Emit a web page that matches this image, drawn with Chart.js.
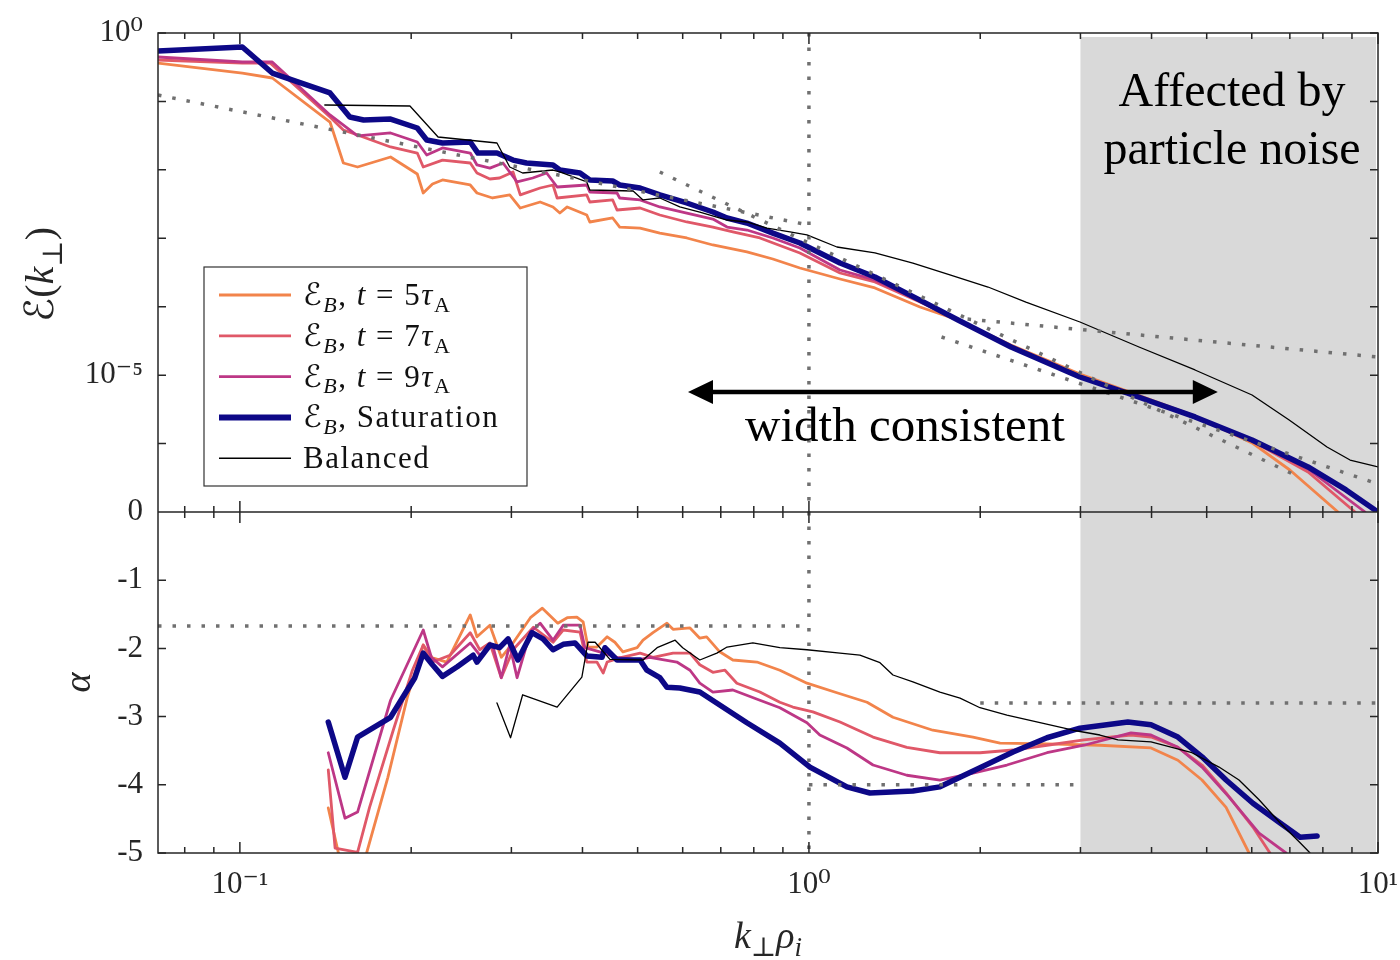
<!DOCTYPE html>
<html lang="en">
<head>
<meta charset="utf-8">
<title>Magnetic spectra and spectral index</title>
<script src="https://cdn.jsdelivr.net/npm/chart.js@4.4.1/dist/chart.umd.min.js"></script>
<style>
  html, body { margin: 0; padding: 0; background: #fff; }
  canvas { display: block; }
</style>
</head>
<body>
<canvas id="spectra" width="1400" height="960"></canvas>
<script>
/*
 * Two stacked panels on one log k⊥ρi axis:
 *   top    - magnetic spectra ℰ_B(k⊥) at t = 5, 7, 9 τA, at saturation, and the balanced run
 *   bottom - local spectral index α of the same curves
 * Dotted lines are reference slopes, the grey band is the noise-dominated range.
 */

const SERIF = "'Liberation Serif', 'DejaVu Serif', 'DejaVu Sans', serif";
const INK = '#262626';
const GUIDE = '#707070';
const C_T5 = '#f2844b', C_T7 = '#e05868', C_T9 = '#bd3786', C_SAT = '#0d0887', C_BAL = '#000000';

// ---- axis ticks ----
const X_TICKS = [0.08, 0.09, 0.1, 0.2, 0.3, 0.4, 0.5, 0.6, 0.7, 0.8, 0.9, 1, 2, 3, 4, 5, 6, 7, 8, 9, 10];
const X_LABELS = { 0.1: '10⁻¹', 1: '10⁰', 10: '10¹' };
const E_TICKS = [1e-7, 1e-6, 1e-5, 1e-4, 1e-3, 1e-2, 1e-1, 1];
const E_LABELS = { 1: '10⁰', 0.00001: '10⁻⁵' };
const A_TICKS = [-5, -4, -3, -2, -1, 0];

// ---- top panel: spectra ----
const kSatTop = [0.0718, 0.101, 0.114, 0.144, 0.156, 0.165, 0.184, 0.205, 0.213, 0.227, 0.254, 0.262, 0.283, 0.302, 0.319, 0.355, 0.365, 0.396, 0.412, 0.452, 0.465, 0.505, 0.547, 0.610, 0.678, 0.718, 0.778, 0.864, 0.964, 1.134, 1.306, 1.567, 1.828, 2.265, 2.994, 3.623, 4.769, 6.007, 7.534, 8.788, 10];
const eSatTop = [0.546, 0.624, 0.260, 0.133, 0.0592, 0.0535, 0.0553, 0.0409, 0.0273, 0.0247, 0.0255, 0.0176, 0.0176, 0.0139, 0.0126, 0.0118, 0.00995, 0.00900, 0.00711, 0.00687, 0.00601, 0.00543, 0.00430, 0.00328, 0.00242, 0.00198, 0.00167, 0.00119, 8.53e-4, 4.35e-4, 2.72e-4, 1.25e-4, 6.40e-5, 2.58e-5, 9.40e-6, 5.48e-6, 2.45e-6, 1.13e-6, 4.55e-7, 2.10e-7, 1.0e-7];

const kT5Top = [0.0718, 0.101, 0.114, 0.144, 0.152, 0.161, 0.184, 0.205, 0.210, 0.218, 0.227, 0.254, 0.261, 0.278, 0.298, 0.311, 0.337, 0.355, 0.365, 0.376, 0.407, 0.412, 0.452, 0.465, 0.505, 0.547, 0.610, 0.678, 0.778, 0.864, 0.964, 1.134, 1.306, 1.567, 1.828, 2.265, 2.994, 3.623, 4.769, 6.007, 7.00, 8.506];
const eT5Top = [0.364, 0.260, 0.220, 0.0500, 0.0126, 0.0110, 0.0154, 0.00870, 0.00459, 0.00621, 0.00711, 0.00601, 0.00459, 0.00388, 0.00430, 0.00277, 0.00339, 0.00287, 0.00234, 0.00287, 0.00219, 0.00173, 0.00198, 0.00146, 0.00141, 0.00119, 0.00101, 7.98e-4, 6.31e-4, 4.98e-4, 3.68e-4, 2.54e-4, 1.88e-4, 9.91e-5, 6.40e-5, 2.76e-5, 1.04e-5, 5.86e-6, 2.53e-6, 1.02e-6, 4.11e-7, 1.0e-7];

const kT7Top = [0.0718, 0.101, 0.113, 0.144, 0.152, 0.161, 0.184, 0.205, 0.210, 0.227, 0.254, 0.261, 0.275, 0.286, 0.302, 0.311, 0.337, 0.355, 0.361, 0.407, 0.412, 0.452, 0.460, 0.505, 0.547, 0.610, 0.678, 0.735, 0.820, 0.964, 1.134, 1.306, 1.567, 1.828, 2.265, 2.994, 3.623, 4.769, 6.007, 7.534, 9.113];
const eT7Top = [0.403, 0.364, 0.364, 0.0592, 0.0383, 0.0323, 0.0216, 0.0176, 0.0110, 0.0139, 0.0126, 0.00900, 0.00735, 0.00760, 0.00931, 0.00430, 0.00543, 0.00601, 0.00388, 0.00430, 0.00339, 0.00363, 0.00259, 0.00277, 0.00219, 0.00173, 0.00146, 0.00124, 0.00101, 6.10e-4, 3.11e-4, 2.30e-4, 1.17e-4, 6.40e-5, 2.58e-5, 9.40e-6, 5.48e-6, 2.45e-6, 1.09e-6, 3.84e-7, 1.0e-7];

const kT9Top = [0.0718, 0.101, 0.114, 0.144, 0.161, 0.184, 0.205, 0.213, 0.227, 0.254, 0.261, 0.275, 0.290, 0.307, 0.327, 0.346, 0.361, 0.407, 0.412, 0.460, 0.465, 0.505, 0.547, 0.610, 0.678, 0.718, 0.778, 0.864, 0.964, 1.134, 1.306, 1.567, 1.828, 2.265, 2.994, 3.623, 4.769, 6.007, 7.534, 9.490];
const eT9Top = [0.446, 0.377, 0.377, 0.0634, 0.0313, 0.0346, 0.0255, 0.0165, 0.0209, 0.0176, 0.0118, 0.0106, 0.0126, 0.00665, 0.00760, 0.00900, 0.00562, 0.00601, 0.00475, 0.00459, 0.00388, 0.00363, 0.00287, 0.00234, 0.00191, 0.00146, 0.00132, 0.00101, 7.22e-4, 3.44e-4, 2.46e-4, 1.21e-4, 6.40e-5, 2.58e-5, 9.40e-6, 5.48e-6, 2.45e-6, 1.11e-6, 4.25e-7, 1.0e-7];

const kBalTop = [0.141, 0.199, 0.223, 0.283, 0.298, 0.314, 0.355, 0.365, 0.407, 0.412, 0.491, 0.511, 0.547, 0.593, 0.643, 0.718, 0.778, 0.844, 0.926, 0.992, 1.120, 1.306, 1.523, 1.769, 2.064, 2.406, 2.994, 3.802, 4.769, 6.007, 6.981, 8.136, 8.932, 10];
const eBalTop = [0.0887, 0.0857, 0.0302, 0.0247, 0.0110, 0.00900, 0.00995, 0.00931, 0.00665, 0.00508, 0.00491, 0.00363, 0.00388, 0.00287, 0.00242, 0.00185, 0.00173, 0.00141, 0.00124, 0.00112, 7.46e-4, 6.10e-4, 4.35e-4, 2.91e-4, 1.94e-4, 1.17e-4, 5.98e-5, 2.58e-5, 1.19e-5, 5.13e-6, 2.21e-6, 8.91e-7, 5.75e-7, 4.55e-7];

// reference slopes in the top panel (k^-5/3, k^-4, k^-2.8 and the shallow tail)
const kRefA = [0.0718, 1.0],  eRefA = [0.124, 1.56e-3];
const kRefB = [0.547, 7.20],  eRefB = [9.31e-3, 3.36e-7];
const kRefC = [1.71, 10],     eRefC = [3.61e-5, 2.57e-7];
const kRefD = [1.9, 10],      eRefD = [6.6e-5, 1.84e-5];

// ---- bottom panel: spectral index ----
const kSatBot = [0.143, 0.153, 0.161, 0.184, 0.203, 0.210, 0.218, 0.227, 0.241, 0.257, 0.261, 0.275, 0.286, 0.296, 0.308, 0.326, 0.341, 0.355, 0.370, 0.388, 0.407, 0.433, 0.438, 0.460, 0.505, 0.519, 0.547, 0.563, 0.593, 0.643, 0.697, 0.778, 0.889, 1.004, 1.166, 1.280, 1.523, 1.699, 1.998, 2.284, 2.620, 2.994, 3.634, 3.991, 4.450, 4.906, 5.408, 6.028, 6.730, 7.296, 7.816];
const aSatBot = [-3.08, -3.89, -3.30, -3.01, -2.43, -2.07, -2.24, -2.41, -2.27, -2.10, -2.20, -1.95, -1.99, -1.86, -2.17, -1.77, -1.86, -2.02, -1.94, -1.92, -2.11, -2.13, -1.99, -2.17, -2.17, -2.32, -2.43, -2.57, -2.58, -2.64, -2.83, -3.09, -3.39, -3.74, -4.03, -4.12, -4.09, -4.03, -3.75, -3.52, -3.31, -3.17, -3.08, -3.12, -3.30, -3.59, -3.93, -4.27, -4.56, -4.77, -4.75];

const kT5Bot = [0.143, 0.149, 0.157, 0.167, 0.182, 0.197, 0.207, 0.210, 0.218, 0.231, 0.254, 0.261, 0.275, 0.288, 0.302, 0.324, 0.340, 0.362, 0.376, 0.391, 0.401, 0.409, 0.424, 0.442, 0.456, 0.471, 0.499, 0.511, 0.532, 0.563, 0.577, 0.618, 0.643, 0.661, 0.697, 0.735, 0.810, 0.889, 0.992, 1.120, 1.265, 1.405, 1.651, 1.942, 2.167, 2.620, 3.246, 3.991, 4.450, 4.906, 5.408, 5.934];
const aT5Bot = [-4.34, -5.0, -5.5, -5.0, -3.89, -2.71, -2.13, -1.95, -2.14, -2.20, -1.51, -1.83, -1.66, -2.13, -1.92, -1.55, -1.41, -1.63, -1.55, -1.54, -1.61, -1.98, -1.98, -1.83, -1.91, -2.05, -1.99, -1.88, -1.77, -1.63, -1.72, -1.70, -1.85, -1.83, -2.05, -2.17, -2.20, -2.32, -2.51, -2.65, -2.79, -3.01, -3.20, -3.30, -3.39, -3.40, -3.42, -3.46, -3.64, -3.93, -4.33, -5.0];

const kT7Bot = [0.143, 0.147, 0.161, 0.169, 0.186, 0.201, 0.210, 0.218, 0.234, 0.254, 0.264, 0.275, 0.288, 0.302, 0.328, 0.355, 0.370, 0.396, 0.407, 0.424, 0.435, 0.442, 0.465, 0.505, 0.532, 0.577, 0.618, 0.643, 0.678, 0.712, 0.747, 0.820, 0.889, 0.937, 1.016, 1.134, 1.296, 1.486, 1.699, 1.998, 2.284, 2.620, 3.043, 3.681, 3.991, 4.450, 4.906, 5.408, 6.028, 6.459];
const aT7Bot = [-3.78, -4.93, -4.99, -4.33, -3.20, -2.32, -1.95, -2.20, -2.10, -1.77, -2.02, -1.92, -2.43, -2.02, -1.69, -1.91, -1.73, -1.76, -2.20, -2.20, -2.36, -2.20, -2.14, -2.07, -2.13, -2.07, -2.07, -2.24, -2.35, -2.32, -2.51, -2.64, -2.79, -2.86, -2.93, -3.08, -3.30, -3.45, -3.53, -3.53, -3.49, -3.42, -3.34, -3.27, -3.30, -3.45, -3.71, -4.12, -4.62, -5.0];

const kT9Bot = [0.143, 0.153, 0.161, 0.184, 0.210, 0.217, 0.227, 0.254, 0.264, 0.278, 0.288, 0.298, 0.307, 0.324, 0.337, 0.355, 0.370, 0.396, 0.404, 0.429, 0.460, 0.499, 0.525, 0.586, 0.618, 0.643, 0.678, 0.735, 0.820, 0.889, 0.992, 1.045, 1.166, 1.296, 1.486, 1.699, 1.942, 2.228, 2.620, 3.043, 3.681, 3.991, 4.450, 4.906, 5.474, 6.180, 6.892];
const aT9Bot = [-3.53, -4.49, -4.40, -2.76, -1.73, -2.13, -2.27, -1.92, -2.10, -1.95, -2.43, -1.95, -2.43, -1.76, -1.63, -1.88, -1.66, -1.66, -1.99, -2.05, -2.13, -2.17, -2.13, -2.20, -2.32, -2.51, -2.64, -2.61, -2.76, -2.87, -3.09, -3.27, -3.46, -3.71, -3.86, -3.93, -3.83, -3.71, -3.53, -3.42, -3.24, -3.27, -3.45, -3.74, -4.18, -4.71, -5.0];

const kBalBot = [0.283, 0.299, 0.314, 0.361, 0.399, 0.409, 0.421, 0.447, 0.511, 0.541, 0.582, 0.600, 0.643, 0.689, 0.718, 0.797, 0.889, 0.992, 1.134, 1.229, 1.333, 1.405, 1.523, 1.699, 1.843, 1.998, 2.228, 2.547, 2.911, 3.246, 3.491, 3.991, 4.710, 5.256, 5.698, 6.180, 6.730, 7.296, 7.596];
const aBalBot = [-2.80, -3.31, -2.68, -2.86, -2.42, -1.91, -1.91, -2.16, -2.17, -1.99, -1.88, -1.99, -2.17, -2.07, -1.98, -1.92, -1.99, -2.02, -2.07, -2.10, -2.21, -2.39, -2.49, -2.64, -2.73, -2.87, -2.98, -3.09, -3.20, -3.27, -3.34, -3.37, -3.53, -3.74, -3.93, -4.22, -4.56, -4.85, -5.0];

// reference indices: -5/3 below k=1, -4 between 1 and 3, -2.8 above 2
const kIdx53 = [0.0718, 1.0], aIdx53 = [-1.67, -1.67];
const kIdx4 = [1.0, 3.0],     aIdx4 = [-4.0, -4.0];
const kIdx28 = [2.0, 10],     aIdx28 = [-2.8, -2.8];

// k⊥ρi = 1 marker, noisy band, arrow span and caption anchors
const K_MARK = [1, 1];
const NOISE_BAND = [3, 10];
const ARROW_K = [0.613, 5.23];
const ARROW_E = 5.67e-6;
const ARROW_TEXT_K = 1.475;
const NOISE_TEXT_K = 5.54;

function pts(ks, vs) {
  return ks.map((k, i) => ({ x: k, y: vs[i] }));
}

function curve(label, ks, vs, axis, color, width, order) {
  return {
    label, data: pts(ks, vs), yAxisID: axis,
    borderColor: color, borderWidth: width, pointRadius: 0,
    tension: 0, fill: false, order, clip: 0,
    borderJoinStyle: 'round', borderCapStyle: 'round',
  };
}

function guide(ks, vs, axis) {
  return {
    label: '', data: pts(ks, vs), yAxisID: axis,
    borderColor: GUIDE, borderWidth: 3.5, borderDash: [3.5, 11], borderCapStyle: 'butt',
    pointRadius: 0, tension: 0, fill: false, order: -1, clip: 0,
  };
}

// mixed roman / italic / sub / superscript text on one baseline
function richText(ctx, parts, x, y, size, align, spacing) {
  const fontFor = st => {
    const small = st.includes('sub') || st.includes('sup');
    const it = st.startsWith('i');
    return (it ? 'italic ' : '') + (small ? Math.round(size * 0.7) : size) + 'px ' + SERIF;
  };
  ctx.letterSpacing = (spacing || 0) + 'px';
  let w = 0;
  for (const [t, st] of parts) { ctx.font = fontFor(st); w += ctx.measureText(t).width; }
  let cx = align === 'center' ? x - w / 2 : x;
  ctx.textAlign = 'left';
  ctx.textBaseline = 'alphabetic';
  for (const [t, st] of parts) {
    ctx.font = fontFor(st);
    const dy = st.includes('sub') ? size * 0.22 : st.includes('sup') ? -size * 0.38 : 0;
    ctx.fillText(t, cx, y + dy);
    cx += ctx.measureText(t).width;
  }
  ctx.letterSpacing = '0px';
  return w;
}

const EB = [['ℰ', ''], ['B', 'isub']];
const LEGEND_ROWS = [
  { color: C_T5, width: 2.8, parts: EB.concat([[', ', ''], ['t', 'i'], [' = 5', ''], ['τ', 'i'], ['A', 'sub']]) },
  { color: C_T7, width: 2.8, parts: EB.concat([[', ', ''], ['t', 'i'], [' = 7', ''], ['τ', 'i'], ['A', 'sub']]) },
  { color: C_T9, width: 2.8, parts: EB.concat([[', ', ''], ['t', 'i'], [' = 9', ''], ['τ', 'i'], ['A', 'sub']]) },
  { color: C_SAT, width: 6, parts: EB.concat([[', Saturation', '']]) },
  { color: C_BAL, width: 1.4, parts: [['Balanced', '']] },
];

const decorations = {
  id: 'decorations',
  beforeDatasetsDraw(chart) {
    const { ctx, chartArea: a, scales: { x } } = chart;
    const x0 = x.getPixelForValue(NOISE_BAND[0]);
    const x1 = x.getPixelForValue(NOISE_BAND[1]);
    ctx.save();
    ctx.fillStyle = '#d9d9d9';
    ctx.fillRect(x0, a.top + 4, x1 - x0 - 2, a.bottom - a.top - 5);
    ctx.restore();
  },
  afterDatasetsDraw(chart) {
    const { ctx, chartArea: a, scales: { x, yTop, yBot } } = chart;
    const mid = yTop.bottom;
    ctx.save();

    // box, shared edge, inward ticks
    ctx.strokeStyle = INK;
    ctx.lineWidth = 1.5;
    ctx.strokeRect(a.left, a.top, a.right - a.left, a.bottom - a.top);
    ctx.beginPath();
    ctx.moveTo(a.left, mid); ctx.lineTo(a.right, mid);
    const seg = (x0, y0, x1, y1) => { ctx.moveTo(x0, y0); ctx.lineTo(x1, y1); };
    x.ticks.forEach(t => {
      const px = x.getPixelForValue(t.value);
      const major = Math.abs(Math.log10(t.value) % 1) < 1e-9;
      const len = major ? 11 : 6;
      seg(px, a.top, px, a.top + len);
      seg(px, mid - len, px, mid + len);
      seg(px, a.bottom, px, a.bottom - len);
    });
    [yTop, yBot].forEach(s => s.ticks.forEach(t => {
      const py = s.getPixelForValue(t.value);
      seg(a.left, py, a.left + 8, py);
      seg(a.right, py, a.right - 8, py);
    }));
    ctx.stroke();

    // legend
    const lx = 204, ly = 267, lw = 323, lh = 219;
    ctx.fillStyle = '#fff';
    ctx.fillRect(lx, ly, lw, lh);
    ctx.strokeStyle = '#333';
    ctx.lineWidth = 1.2;
    ctx.strokeRect(lx, ly, lw, lh);
    ctx.fillStyle = '#111';
    LEGEND_ROWS.forEach((row, i) => {
      const ry = ly + 28 + i * 40.8;
      ctx.strokeStyle = row.color;
      ctx.lineWidth = row.width;
      ctx.beginPath(); ctx.moveTo(lx + 15, ry); ctx.lineTo(lx + 87, ry); ctx.stroke();
      richText(ctx, row.parts, lx + 99, ry + 10, 31, 'left', 1.5);
    });

    // double arrow and its caption
    const ax0 = x.getPixelForValue(ARROW_K[0]);
    const ax1 = x.getPixelForValue(ARROW_K[1]);
    const ay = yTop.getPixelForValue(ARROW_E);
    ctx.strokeStyle = '#000';
    ctx.fillStyle = '#000';
    ctx.lineWidth = 4.5;
    ctx.beginPath(); ctx.moveTo(ax0 + 20, ay); ctx.lineTo(ax1 - 20, ay); ctx.stroke();
    ctx.beginPath();
    ctx.moveTo(ax0, ay); ctx.lineTo(ax0 + 25, ay - 12); ctx.lineTo(ax0 + 25, ay + 12); ctx.closePath();
    ctx.moveTo(ax1, ay); ctx.lineTo(ax1 - 25, ay - 12); ctx.lineTo(ax1 - 25, ay + 12); ctx.closePath();
    ctx.fill();
    ctx.textAlign = 'center';
    ctx.textBaseline = 'alphabetic';
    ctx.font = '49px ' + SERIF;
    ctx.fillText('width consistent', x.getPixelForValue(ARROW_TEXT_K), ay + 49);

    const nx = x.getPixelForValue(NOISE_TEXT_K);
    ctx.font = '48px ' + SERIF;
    ctx.fillText('Affected by', nx, a.top + 73);
    ctx.fillText('particle noise', nx, a.top + 131);

    // axis titles
    ctx.fillStyle = INK;
    ctx.save();
    ctx.translate(40, (yTop.top + yTop.bottom) / 2 + 2);
    ctx.rotate(-Math.PI / 2);
    richText(ctx, [['ℰ', ''], ['(', ''], ['k', 'i'], ['⊥', 'sub'], [')', '']], 0, 13, 40, 'center');
    ctx.restore();
    ctx.save();
    ctx.translate(80, (yBot.top + yBot.bottom) / 2);
    ctx.rotate(-Math.PI / 2);
    richText(ctx, [['α', 'i']], 0, 10, 38, 'center');
    ctx.restore();
    richText(ctx, [['k', 'i'], ['⊥', 'sub'], ['ρ', 'i'], ['i', 'isub']], (a.left + a.right) / 2, 948, 38, 'center');

    ctx.restore();
  },
};

Chart.defaults.font.family = SERIF;
Chart.defaults.color = INK;

new Chart(document.getElementById('spectra'), {
  type: 'line',
  data: {
    datasets: [
      curve('Balanced', kBalTop, eBalTop, 'yTop', C_BAL, 1.3, 0),
      curve('Saturation', kSatTop, eSatTop, 'yTop', C_SAT, 5.5, 1),
      curve('t = 9', kT9Top, eT9Top, 'yTop', C_T9, 2.8, 2),
      curve('t = 7', kT7Top, eT7Top, 'yTop', C_T7, 2.8, 3),
      curve('t = 5', kT5Top, eT5Top, 'yTop', C_T5, 2.8, 4),
      curve('Balanced α', kBalBot, aBalBot, 'yBot', C_BAL, 1.3, 0),
      curve('Saturation α', kSatBot, aSatBot, 'yBot', C_SAT, 5.5, 1),
      curve('t = 9 α', kT9Bot, aT9Bot, 'yBot', C_T9, 2.8, 2),
      curve('t = 7 α', kT7Bot, aT7Bot, 'yBot', C_T7, 2.8, 3),
      curve('t = 5 α', kT5Bot, aT5Bot, 'yBot', C_T5, 2.8, 4),
      guide(kRefA, eRefA, 'yTop'),
      guide(kRefB, eRefB, 'yTop'),
      guide(kRefC, eRefC, 'yTop'),
      guide(kRefD, eRefD, 'yTop'),
      guide(K_MARK, [1, 1e-7], 'yTop'),
      guide(kIdx53, aIdx53, 'yBot'),
      guide(kIdx4, aIdx4, 'yBot'),
      guide(kIdx28, aIdx28, 'yBot'),
      guide(K_MARK, [0, -5], 'yBot'),
    ],
  },
  options: {
    responsive: false,
    devicePixelRatio: 1,
    animation: false,
    layout: { padding: { top: 33, right: 22, bottom: 0, left: 0 } },
    plugins: { legend: { display: false }, tooltip: { enabled: false } },
    scales: {
      x: {
        type: 'logarithmic', min: 0.0718, max: 10,
        grid: { display: false, drawTicks: false }, border: { display: false },
        afterBuildTicks: s => { s.ticks = X_TICKS.map(v => ({ value: v })); },
        afterFit: s => { s.height = 107; s.paddingLeft = 0; s.paddingRight = 0; },
        ticks: {
          autoSkip: false, maxRotation: 0, minRotation: 0, padding: 13,
          font: { size: 31 }, color: INK,
          callback: v => X_LABELS[v] || '',
        },
      },
      yBot: {
        type: 'linear', position: 'left', stack: 'panels', stackWeight: 341, weight: 0,
        min: -5, max: 0,
        grid: { display: false, drawTicks: false }, border: { display: false },
        afterBuildTicks: s => { s.ticks = A_TICKS.map(v => ({ value: v })); },
        afterFit: s => { s.width = 158; s.paddingTop = 0; s.paddingBottom = 0; },
        ticks: { autoSkip: false, padding: 15, font: { size: 31 }, color: INK, callback: v => String(v) },
      },
      yTop: {
        type: 'logarithmic', position: 'left', stack: 'panels', stackWeight: 479, weight: 1,
        min: 1e-7, max: 1,
        grid: { display: false, drawTicks: false }, border: { display: false },
        afterBuildTicks: s => { s.ticks = E_TICKS.map(v => ({ value: v })); },
        afterFit: s => { s.width = 158; s.paddingTop = 0; s.paddingBottom = 0; },
        ticks: { autoSkip: false, padding: 15, font: { size: 31 }, color: INK, callback: v => E_LABELS[v] || '' },
      },
    },
  },
  plugins: [decorations],
});
</script>
</body>
</html>
